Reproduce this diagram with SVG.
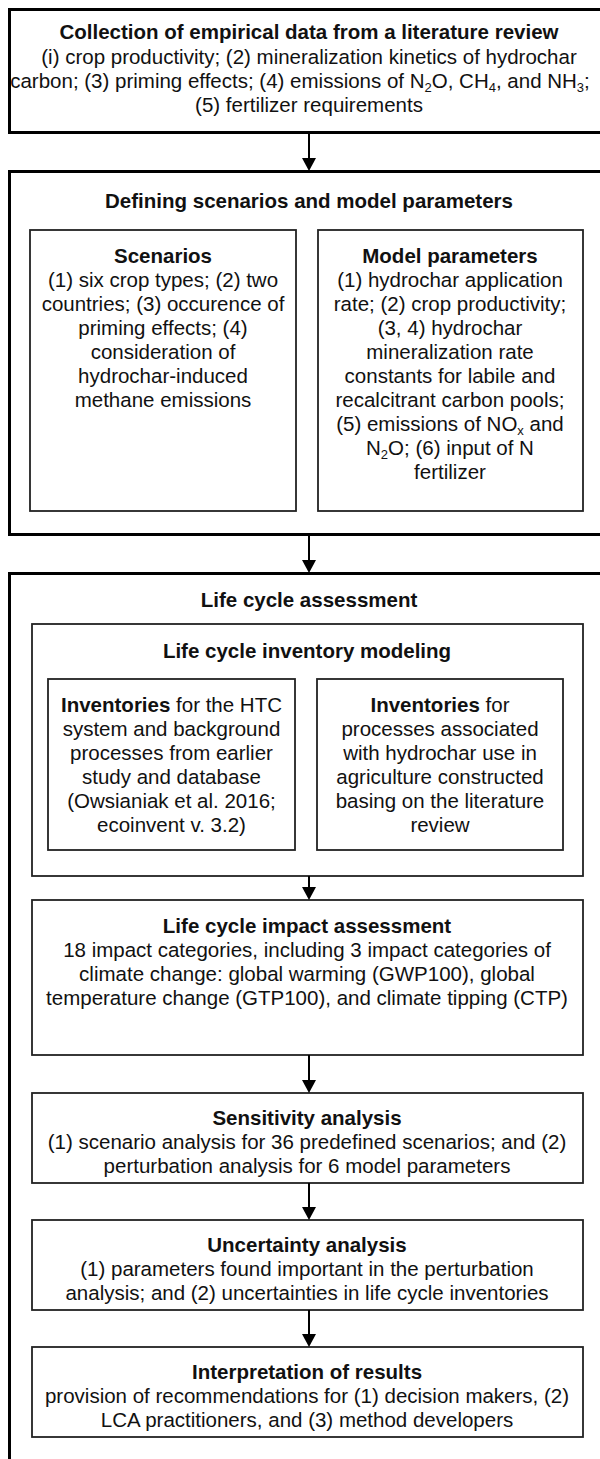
<svg xmlns="http://www.w3.org/2000/svg" width="600" height="1459" viewBox="0 0 600 1459">
<style>
text{font-family:"Liberation Sans",Arial,sans-serif;font-size:20.5px;fill:#111;text-anchor:middle}
.b{font-weight:bold}
.outer{fill:none;stroke:#000;stroke-width:3}
.inner{fill:none;stroke:#222;stroke-width:1.8}
.sub{font-size:13px}
.conn line{stroke:#000;stroke-width:2}
.conn polygon{fill:#000}
</style>
<rect width="600" height="1459" fill="#fff"/>
<g id="n1">
<rect class="outer" x="9.5" y="9.5" width="600" height="123"/>
<text class="b" x="309" y="39">Collection of empirical data from a literature review</text>
<text x="309" y="64">(i) crop productivity; (2) mineralization kinetics of hydrochar</text>
<text x="300" y="88">carbon; (3) priming effects; (4) emissions of N<tspan class="sub" dy="4">2</tspan><tspan dy="-4">O, CH</tspan><tspan class="sub" dy="4">4</tspan><tspan dy="-4">, and NH</tspan><tspan class="sub" dy="4">3</tspan><tspan dy="-4">;</tspan></text>
<text x="309" y="112">(5) fertilizer requirements</text>
</g>
<g id="n2">
<rect class="outer" x="9.5" y="171.5" width="600" height="363"/>
<text class="b" x="309" y="208">Defining scenarios and model parameters</text>
</g>
<g id="n2a">
<rect class="inner" x="30" y="230" width="266" height="281"/>
<text class="b" x="163" y="263">Scenarios</text>
<text x="163" y="287">(1) six crop types; (2) two</text>
<text x="163" y="311">countries; (3) occurence of</text>
<text x="163" y="335">priming effects; (4)</text>
<text x="163" y="359">consideration of</text>
<text x="163" y="383">hydrochar-induced</text>
<text x="163" y="407">methane emissions</text>
</g>
<g id="n2b">
<rect class="inner" x="318" y="230" width="265" height="281"/>
<text class="b" x="450" y="263">Model parameters</text>
<text x="450" y="287">(1) hydrochar application</text>
<text x="450" y="311">rate; (2) crop productivity;</text>
<text x="450" y="335">(3, 4) hydrochar</text>
<text x="450" y="359">mineralization rate</text>
<text x="450" y="383">constants for labile and</text>
<text x="450" y="407">recalcitrant carbon pools;</text>
<text x="450" y="431">(5) emissions of NO<tspan class="sub" dy="4">x</tspan><tspan dy="-4"> and</tspan></text>
<text x="450" y="455">N<tspan class="sub" dy="4">2</tspan><tspan dy="-4">O; (6) input of N</tspan></text>
<text x="450" y="479">fertilizer</text>
</g>
<g id="n3">
<rect class="outer" x="9.5" y="573.5" width="600" height="900"/>
<text class="b" x="309" y="607">Life cycle assessment</text>
</g>
<g id="n3a">
<rect class="inner" x="32" y="624" width="551" height="252"/>
<text class="b" x="307" y="658">Life cycle inventory modeling</text>
</g>
<g id="n3a1">
<rect class="inner" x="48" y="679" width="247" height="171"/>
<text x="171.5" y="712"><tspan class="b">Inventories</tspan> for the HTC</text>
<text x="171.5" y="736">system and background</text>
<text x="171.5" y="760">processes from earlier</text>
<text x="171.5" y="784">study and database</text>
<text x="171.5" y="808">(Owsianiak et al. 2016;</text>
<text x="171.5" y="832">ecoinvent v. 3.2)</text>
</g>
<g id="n3a2">
<rect class="inner" x="317" y="679" width="246" height="171"/>
<text x="440" y="712"><tspan class="b">Inventories</tspan> for</text>
<text x="440" y="736">processes associated</text>
<text x="440" y="760">with hydrochar use in</text>
<text x="440" y="784">agriculture constructed</text>
<text x="440" y="808">basing on the literature</text>
<text x="440" y="832">review</text>
</g>
<g id="n3b">
<rect class="inner" x="32" y="900" width="551" height="155"/>
<text class="b" x="307" y="933">Life cycle impact assessment</text>
<text x="307" y="957">18 impact categories, including 3 impact categories of</text>
<text x="307" y="981">climate change: global warming (GWP100), global</text>
<text x="307" y="1005">temperature change (GTP100), and climate tipping (CTP)</text>
</g>
<g id="n3c">
<rect class="inner" x="32" y="1093" width="551" height="90"/>
<text class="b" x="307" y="1125">Sensitivity analysis</text>
<text x="307" y="1149">(1) scenario analysis for 36 predefined scenarios; and (2)</text>
<text x="307" y="1173">perturbation analysis for 6 model parameters</text>
</g>
<g id="n3d">
<rect class="inner" x="32" y="1220" width="551" height="90"/>
<text class="b" x="307" y="1252">Uncertainty analysis</text>
<text x="307" y="1276">(1) parameters found important in the perturbation</text>
<text x="307" y="1300">analysis; and (2) uncertainties in life cycle inventories</text>
</g>
<g id="n3e">
<rect class="inner" x="32" y="1347" width="551" height="90"/>
<text class="b" x="307" y="1379">Interpretation of results</text>
<text x="307" y="1403">provision of recommendations for (1) decision makers, (2)</text>
<text x="307" y="1427">LCA practitioners, and (3) method developers</text>
</g>
<g id="connectors" class="conn">
<line x1="309" y1="133" x2="309" y2="160"/>
<polygon points="302,158 316,158 309,171"/>
<line x1="309" y1="535" x2="309" y2="562"/>
<polygon points="302,560 316,560 309,573"/>
<line x1="309" y1="876" x2="309" y2="889"/>
<polygon points="302,887 316,887 309,900"/>
<line x1="309" y1="1055" x2="309" y2="1082"/>
<polygon points="302,1080 316,1080 309,1093"/>
<line x1="309" y1="1183" x2="309" y2="1209"/>
<polygon points="302,1207 316,1207 309,1220"/>
<line x1="309" y1="1310" x2="309" y2="1336"/>
<polygon points="302,1334 316,1334 309,1347"/>
</g>
</svg>
